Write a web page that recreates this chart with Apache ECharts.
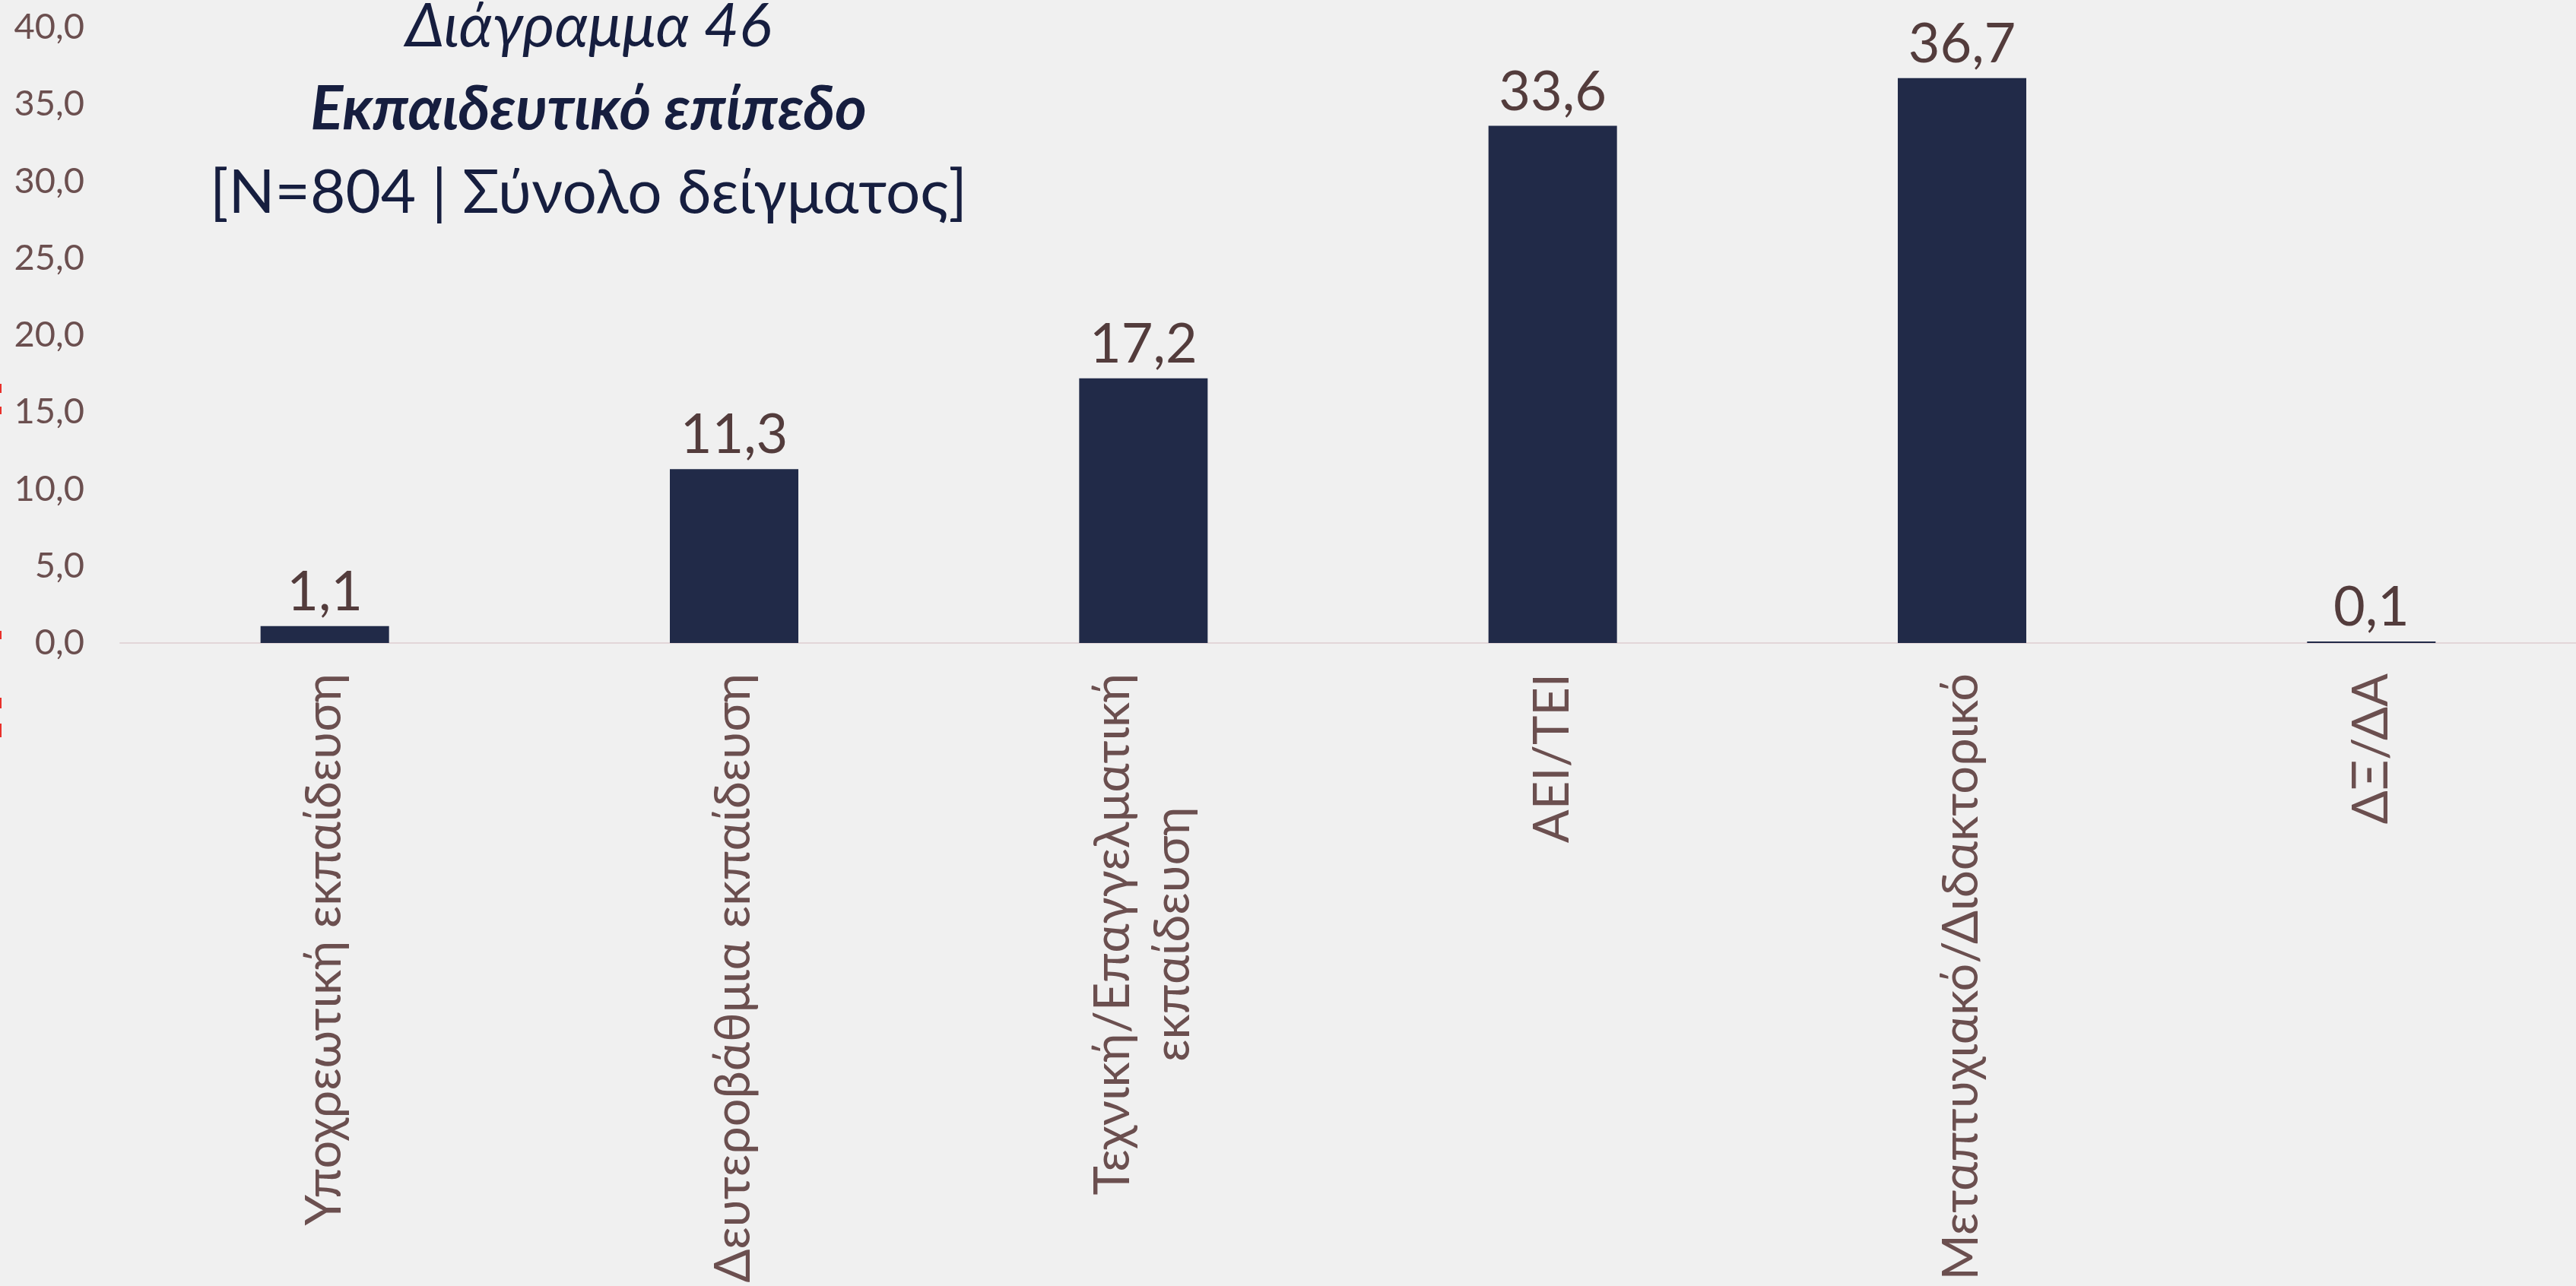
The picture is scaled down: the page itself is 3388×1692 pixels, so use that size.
<!DOCTYPE html>
<html lang="el">
<head>
<meta charset="utf-8">
<title>Διάγραμμα 46 – Εκπαιδευτικό επίπεδο</title>
<script src="https://cdn.jsdelivr.net/npm/echarts@6/dist/echarts.min.js"></script>
<style>
  html, body { margin: 0; padding: 0; background: #f0f0f0; }
  #chart { width: 3388px; height: 1692px; }
</style>
</head>
<body>
<div id="chart"></div>
<script>
// Education level of the sample (percent, N=804)
const categories = [
  'Υποχρεωτική εκπαίδευση',
  'Δευτεροβάθμια εκπαίδευση',
  'Τεχνική/Επαγγελματική\nεκπαίδευση',
  'ΑΕΙ/ΤΕΙ',
  'Μεταπτυχιακό/Διδακτορικό',
  'ΔΞ/ΔΑ'
];
const values = [1.1, 11.3, 17.2, 33.6, 36.7, 0.1];

const titleLines = ['Διάγραμμα 46', 'Εκπαιδευτικό επίπεδο', '[N=804 | Σύνολο δείγματος]'];

// Y axis range and step
const yMin = 0;
const yMax = 40;
const yStep = 5;

const commaDecimal = v => Number(v).toFixed(1).replace('.', ',');

const NAVY = '#212a48';
const TITLE = '#161e3f';
const LABEL = '#6b4f4f';
const VALUE = '#533c3c';
const FONT = 'Lato, "Open Sans", "Noto Sans", sans-serif';

const chart = echarts.init(document.getElementById('chart'), null, { renderer: 'canvas' });

chart.setOption({
  backgroundColor: '#f0f0f0',
  animation: false,
  title: [
    {
      text: titleLines[0], left: 774, top: -5, textAlign: 'center', padding: 0,
      textStyle: { fontFamily: FONT, fontSize: 80, fontStyle: 'italic', fontWeight: 'normal', color: TITLE }
    },
    {
      text: titleLines[1], left: 774, top: 104, textAlign: 'center', padding: 0,
      textStyle: { fontFamily: FONT, fontSize: 80, fontStyle: 'italic', fontWeight: 'bold', color: TITLE }
    },
    {
      text: titleLines[2], left: 774, top: 214, textAlign: 'center', padding: 0,
      textStyle: { fontFamily: FONT, fontSize: 80, fontStyle: 'normal', fontWeight: 'normal', color: TITLE }
    }
  ],
  grid: { left: 158, top: 36, width: 3234, height: 810, containLabel: false },
  xAxis: {
    type: 'category',
    data: categories,
    axisLine: { show: true, lineStyle: { color: '#e2d6d8', width: 2 } },
    axisTick: { show: false },
    splitLine: { show: false },
    axisLabel: {
      interval: 0,
      rotate: 90,
      margin: 40,
      color: LABEL,
      fontFamily: FONT,
      fontSize: 65,
      formatter: v => v.split('\n').map(s => '{c|' + s + '}').join('\n'),
      rich: {
        c: { fontFamily: FONT, fontSize: 65, color: LABEL, align: 'center', lineHeight: 79 }
      }
    }
  },
  yAxis: {
    type: 'value',
    min: yMin,
    max: yMax,
    interval: yStep,
    axisLine: { show: false },
    axisTick: { show: false },
    splitLine: { show: false },
    axisLabel: {
      margin: 47,
      color: LABEL,
      fontFamily: FONT,
      fontSize: 47,
      formatter: v => commaDecimal(v)
    }
  },
  series: [{
    type: 'bar',
    data: values,
    barWidth: 169,
    itemStyle: { color: NAVY },
    label: {
      show: true,
      position: 'top',
      distance: 8,
      color: VALUE,
      fontFamily: FONT,
      fontSize: 72,
      formatter: p => commaDecimal(p.value)
    }
  }],
  graphic: [
    // thin red ticks along the left edge
    { type: 'rect', left: 0, top: 505, shape: { width: 2, height: 12 }, style: { fill: '#e8302a' } },
    { type: 'rect', left: 0, top: 535, shape: { width: 2, height: 10 }, style: { fill: '#e8302a' } },
    { type: 'rect', left: 0, top: 830, shape: { width: 2, height: 11 }, style: { fill: '#e8302a' } },
    { type: 'rect', left: 0, top: 918, shape: { width: 2, height: 14 }, style: { fill: '#e8302a' } },
    { type: 'rect', left: 0, top: 952, shape: { width: 2, height: 18 }, style: { fill: '#e8302a' } }
  ]
});
</script>
</body>
</html>
